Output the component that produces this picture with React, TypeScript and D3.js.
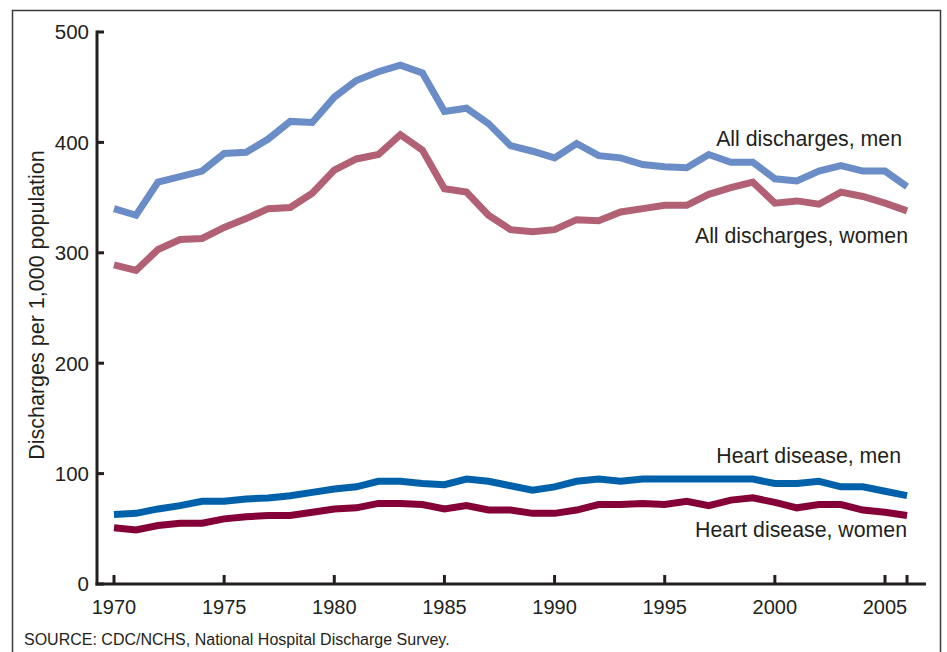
import React from "react";
import * as d3 from "d3";

const years: number[] = d3.range(1970, 2007);
const allMen: number[] = [340, 334, 364, 369, 374, 390, 391, 403, 419, 418, 441, 456, 464, 470, 463, 428, 431, 417, 397, 392, 386, 399, 388, 386, 380, 378, 377, 389, 382, 382, 367, 365, 374, 379, 374, 374, 360];
const allWomen: number[] = [289, 284, 303, 312, 313, 323, 331, 340, 341, 354, 375, 385, 389, 407, 393, 358, 355, 334, 321, 319, 321, 330, 329, 337, 340, 343, 343, 353, 359, 364, 345, 347, 344, 355, 351, 345, 338];
const heartMen: number[] = [63, 64, 68, 71, 75, 75, 77, 78, 80, 83, 86, 88, 93, 93, 91, 90, 95, 93, 89, 85, 88, 93, 95, 93, 95, 95, 95, 95, 95, 95, 91, 91, 93, 88, 88, 84, 80];
const heartWomen: number[] = [51, 49, 53, 55, 55, 59, 61, 62, 62, 65, 68, 69, 73, 73, 72, 68, 71, 67, 67, 64, 64, 67, 72, 72, 73, 72, 75, 71, 76, 78, 74, 69, 72, 72, 67, 65, 62];
const seriesNames: string[] = ["All discharges, men", "All discharges, women", "Heart disease, men", "Heart disease, women"];
const xTickLabels: number[] = [1970, 1975, 1980, 1985, 1990, 1995, 2000, 2005];
const xTickExtra: number[] = [2006];
const yTicks: number[] = [0, 100, 200, 300, 400, 500];
const yTitle = "Discharges per 1,000 population";
const source = "SOURCE: CDC/NCHS, National Hospital Discharge Survey.";

const W = 947;
const H = 652;
const font = "'Liberation Sans', Arial, Helvetica, sans-serif";
const textColor = "#231f20";

export default function App() {
  const x = d3.scaleLinear().domain([1970, 2005]).range([114, 885]);
  const y = d3.scaleLinear().domain([0, 500]).range([584, 32]);
  const line = d3
    .line<number>()
    .x((_, i) => x(years[i]))
    .y((d) => y(d));

  const series = [
    { name: seriesNames[0], values: allMen, color: "#6a8cc7", lx: 902, ly: 146 },
    { name: seriesNames[1], values: allWomen, color: "#b26073", lx: 908, ly: 243 },
    { name: seriesNames[2], values: heartMen, color: "#0061ab", lx: 901, ly: 463 },
    { name: seriesNames[3], values: heartWomen, color: "#840036", lx: 907, ly: 537 },
  ];

  return (
    <svg
      width={W}
      height={H}
      style={{ position: "absolute", left: 0, top: 0, display: "block", background: "#fff" }}
      fontFamily={font}
    >
      <rect x={0} y={0} width={W} height={H} fill="#fff" />
      {/* frame */}
      <path d={`M12.5,${H} V10.5 H940.5 V${H}`} fill="none" stroke="#3a3a3a" strokeWidth={1.5} />

      {/* y axis */}
      <line x1={97} x2={97} y1={y(500) - 1.5} y2={y(0) + 1.5} stroke={textColor} strokeWidth={3} />
      {yTicks.map((t) => (
        <g key={t}>
          <line x1={97} x2={104} y1={y(t)} y2={y(t)} stroke={textColor} strokeWidth={3} />
          <text x={89} y={y(t)} dy="0.36em" textAnchor="end" fontSize={20.5} fill={textColor}>
            {t}
          </text>
        </g>
      ))}
      <text
        transform={`translate(44,305) rotate(-90)`}
        textAnchor="middle"
        fontSize={21.5}
        fill={textColor}
      >
        {yTitle}
      </text>

      {/* x axis */}
      <line x1={95.5} x2={926} y1={y(0)} y2={y(0)} stroke={textColor} strokeWidth={3} />
      {xTickLabels.map((t) => (
        <g key={t}>
          <line x1={x(t)} x2={x(t)} y1={y(0)} y2={y(0) - 9} stroke={textColor} strokeWidth={3} />
          <text x={x(t)} y={614} textAnchor="middle" fontSize={20} fill={textColor}>
            {t}
          </text>
        </g>
      ))}
      {xTickExtra.map((t) => (
        <line key={t} x1={x(t)} x2={x(t)} y1={y(0)} y2={y(0) - 9} stroke={textColor} strokeWidth={3} />
      ))}

      {/* lines */}
      {series.map((s) => (
        <path
          key={s.name}
          d={line(s.values) || ""}
          fill="none"
          stroke={s.color}
          strokeWidth={7}
          strokeLinejoin="miter"
          strokeLinecap="butt"
        />
      ))}
      {series.map((s) => (
        <text key={s.name + "l"} x={s.lx} y={s.ly} textAnchor="end" fontSize={21.3} fill={textColor}>
          {s.name}
        </text>
      ))}

      <text x={24} y={645} fontSize={16} fill={textColor}>
        {source}
      </text>
    </svg>
  );
}
